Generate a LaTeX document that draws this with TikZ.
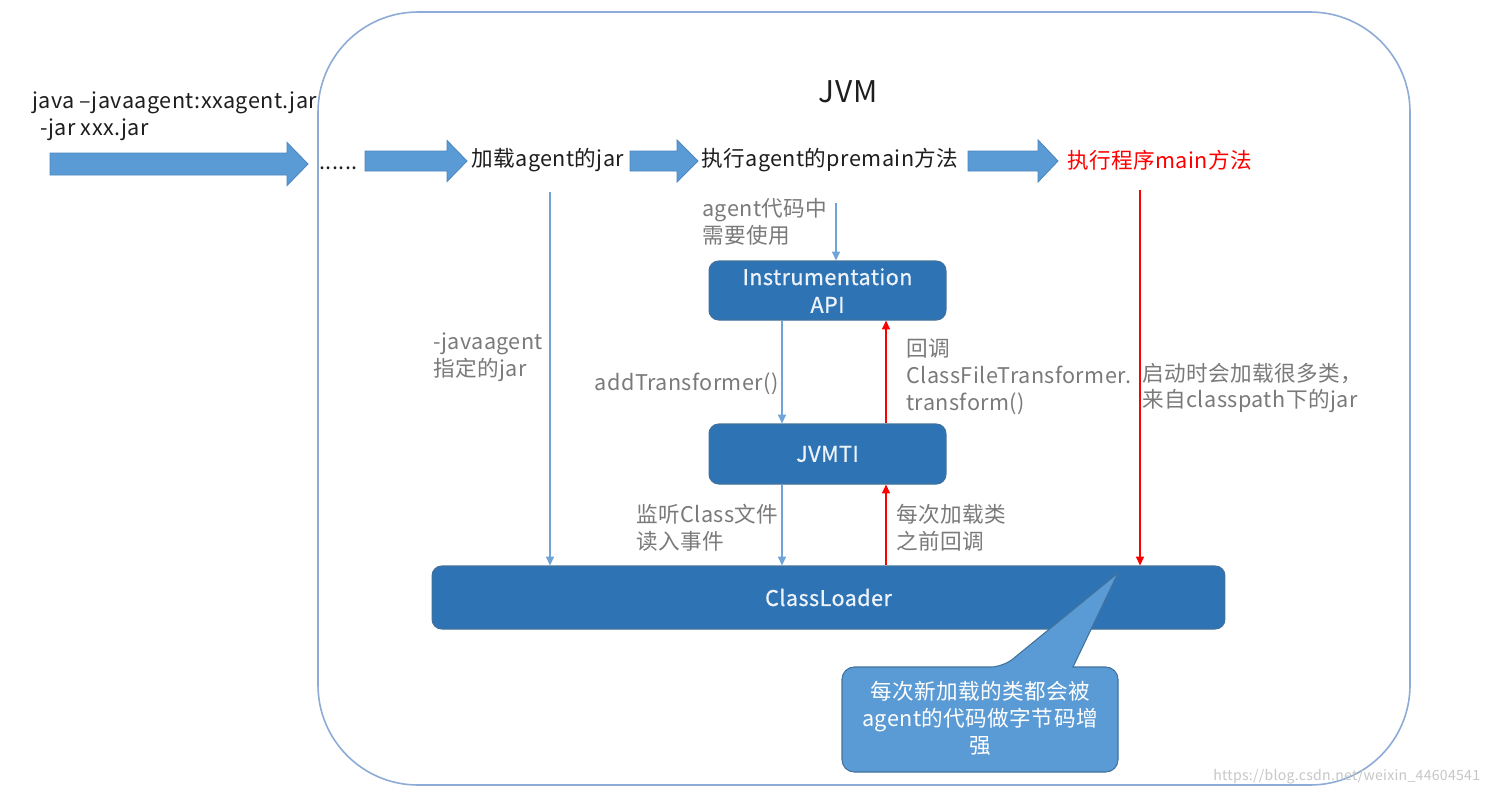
\documentclass[tikz,border=0pt]{standalone}
\usepackage{fontspec}
\setmainfont{Noto Sans CJK SC}[LetterSpace=2]
\newfontfamily\boxfont{Noto Sans CJK SC}[LetterSpace=2,FakeBold=0.7]
\usetikzlibrary{arrows.meta,calc}
\definecolor{arrowblue}{HTML}{5B9BD5}
\definecolor{arrowedge}{HTML}{4A86C0}
\definecolor{boxblue}{HTML}{2E74B5}
\definecolor{boxedge}{HTML}{41719C}
\definecolor{frameblue}{HTML}{8CABD6}
\definecolor{linegray}{HTML}{7A7A7A}
\definecolor{maintext}{HTML}{1E1E1E}
\definecolor{thinblue}{HTML}{6FA4D8}
\definecolor{boxtext}{HTML}{EEF3FA}
\newcommand\barrow[6]{%
  \fill[arrowblue,draw=arrowedge,line width=0.5pt]
    (#1,#4-#5) -- (#2,#4-#5) -- (#2,#4-#6) -- (#3,#4) -- (#2,#4+#6) -- (#2,#4+#5) -- (#1,#4+#5) -- cycle;}
\begin{document}
\begin{tikzpicture}[x=0.02cm,y=-0.02cm,
  base/.style={inner sep=0pt,font=\fontsize{12.3}{15.3}\selectfont},
  maintxt/.style={base,text=maintext},
  graylbl/.style={base,text=linegray,align=left},
  darkbox/.style={inner sep=0pt,font=\boxfont\fontsize{12.3}{15.8}\selectfont,draw=boxedge,fill=boxblue,text=boxtext,rounded corners=5.5pt,line width=0.6pt,align=center},
  bline/.style={thinblue,line width=0.9pt,-{Triangle[length=5pt,width=4.5pt]}},
  rline/.style={red,line width=0.9pt,-{Triangle[length=5pt,width=4.5pt]}}]
\useasboundingbox (0,0) rectangle (1501,795);
\fill[white] (0,0) rectangle (1501,795);
% JVM frame
\draw[frameblue,line width=0.9pt,rounded corners=2cm] (318,12) rectangle (1410,785);
\node[base,font=\fontsize{17}{20}\selectfont,text=maintext] (jvm) at (848,92) {JVM};
% command
\node[maintxt,anchor=base west] (cmd1) at (32,108) {java –javaagent:xxagent.jar};
\node[maintxt,anchor=base west] (cmd2) at (40,135) {-jar xxx.jar};
% block arrows
\barrow{50}{287}{308}{164}{11}{21.5}
\barrow{365}{447}{467}{161}{10}{20.5}
\barrow{630}{677}{698}{161}{10}{21}
\barrow{968}{1038}{1058}{161}{10}{21}
\node[maintxt,anchor=west] (dots) at (319,168) {......};
\node[maintxt,anchor=west] (loadjar) at (471,160) {加载agent的jar};
\node[maintxt,anchor=west] (premain) at (701,160) {执行agent的premain方法};
\node[base,text=red,anchor=west] (mainrun) at (1067,160) {执行程序main方法};
% boxes
\node[darkbox,minimum width=4.74cm,minimum height=1.18cm] (inst) at (827.5,290.5) {Instrumentation\\API};
\node[darkbox,minimum width=4.74cm,minimum height=1.2cm] (jvmti) at (827.5,454) {JVMTI};
\node[darkbox,minimum width=15.86cm,minimum height=1.26cm] (cl) at (828.5,597.5) {ClassLoader};
% connectors
\coordinate (c550) at (550,0);
\coordinate (c836) at (836,0);
\coordinate (c782) at (782,0);
\coordinate (c886) at (886,0);
\coordinate (c1140) at (1140,0);
\draw[bline] ($(c550|-loadjar.south)+(0,20)$) -- (c550|-cl.north);
\draw[bline] ($(c836|-premain.south)+(0,31)$) -- (c836|-inst.north);
\draw[bline] (c782|-inst.south) -- (c782|-jvmti.north);
\draw[rline] (c886|-jvmti.north) -- (c886|-inst.south);
\draw[bline] (c782|-jvmti.south) -- (c782|-cl.north);
\draw[rline] (c886|-cl.north) -- (c886|-jvmti.south);
\draw[rline] ($(c1140|-mainrun.south)+(0,20)$) -- (c1140|-cl.north);
% labels
\node[graylbl,anchor=west] (l1) at (702,222) {agent代码中\\需要使用};
\node[graylbl,anchor=west] (l2) at (433,357) {-javaagent\\指定的jar};
\node[graylbl,anchor=east] (l3) at (779,384) {addTransformer()};
\node[graylbl,anchor=west] (l4) at (906,377) {回调\\ClassFileTransformer.\\transform()};
\node[graylbl,anchor=west] (l5) at (1142,388) {启动时会加载很多类，\\来自classpath下的jar};
\node[graylbl,anchor=west] (l6) at (636,528) {监听Class文件\\读入事件};
\node[graylbl,anchor=west] (l7) at (896,528) {每次加载类\\之前回调};
% callout
\path[fill=arrowblue,draw=boxedge,line width=0.6pt]
  (842,720) [rounded corners=7pt] -- (842,667) -- (1003,667) [sharp corners] -- (1118,573) -- (1073,667) [rounded corners=7pt] -- (1118,667) -- (1118,772) -- (842,772) [sharp corners] -- cycle;
\node[base,text=white,align=center,text width=5cm] (note) at (980,718) {每次新加载的类都会被\\agent的代码做字节码增\\强};
% watermark
\node[base,font=\fontsize{8}{10}\selectfont,text=black!22,anchor=west] (wm) at (1213,777) {https://blog.csdn.net/weixin\_44604541};
\end{tikzpicture}
\end{document}
